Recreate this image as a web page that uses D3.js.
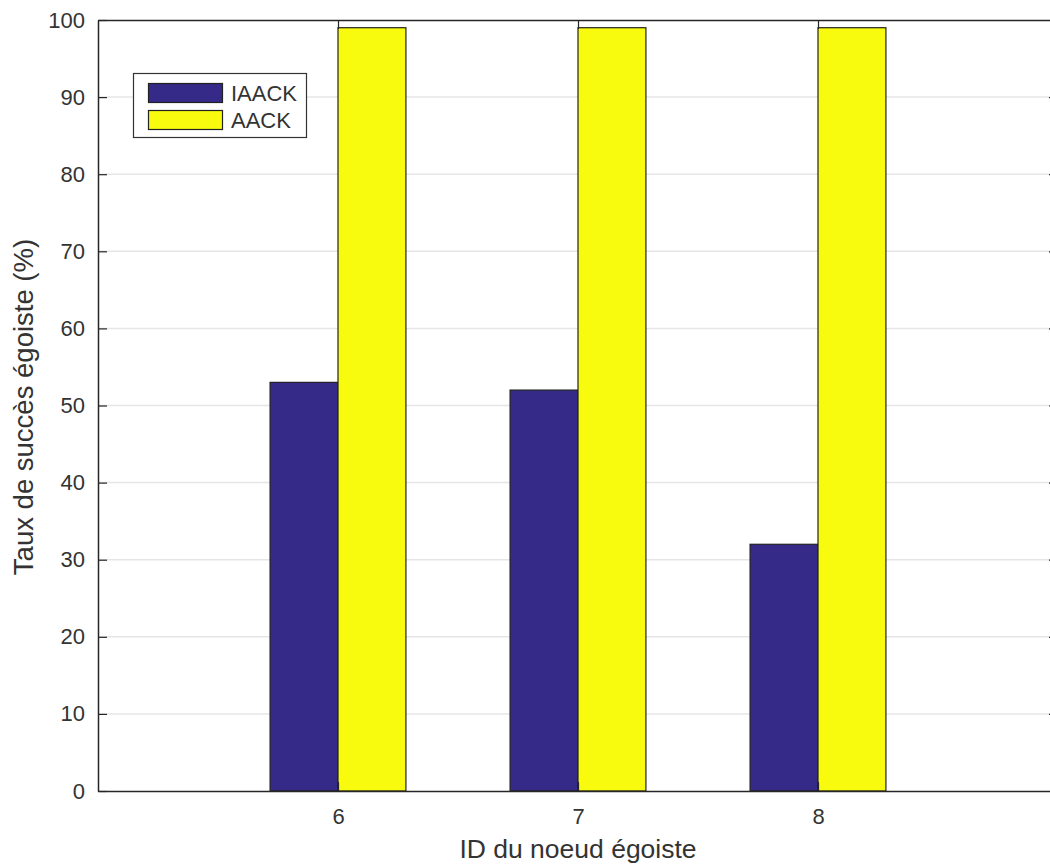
<!DOCTYPE html>
<html>
<head>
<meta charset="utf-8">
<script src="https://cdn.jsdelivr.net/npm/d3@7"></script>
<style>
  body { margin: 0; background: #fff; }
  svg { display: block; font-family: "Liberation Sans", Arial, sans-serif; }
</style>
</head>
<body>
<div id="chart"></div>
<script>
// data
var nodes = [6, 7, 8];
var seriesNames = ["IAACK", "AACK"];
var iaack = [53, 52, 32];
var aack = [99, 99, 99];
var yTicks = [0, 10, 20, 30, 40, 50, 60, 70, 80, 90, 100];
var colors = ["#352a87", "#f9fb0e"];

var W = 1050, H = 865;
var plotL = 98, plotR = 1058, plotT = 20, plotB = 791;

var svg = d3.select('#chart').append('svg').attr('width', W).attr('height', H);

var x = d3.scaleLinear().domain([5, 9]).range([plotL, plotR]);
var y = d3.scaleLinear().domain([0, 100]).range([plotB, plotT]);
var barW = x(5.283) - x(5); // one bar, ~68px

// grid
svg.append('g').selectAll('line')
  .data(yTicks.filter(function (d) { return d > 0 && d < 100; }))
  .enter().append('line')
  .attr('x1', plotL).attr('x2', plotR)
  .attr('y1', function (d) { return y(d); })
  .attr('y2', function (d) { return y(d); })
  .attr('stroke', '#e6e6e6').attr('stroke-width', 1.5);

// bars
var values = [iaack, aack];
values.forEach(function (vals, s) {
  svg.append('g').selectAll('rect')
    .data(vals)
    .enter().append('rect')
    .attr('x', function (d, i) { return x(nodes[i]) + (s - 1) * barW; })
    .attr('width', barW)
    .attr('y', function (d) { return y(d); })
    .attr('height', function (d) { return y(0) - y(d); })
    .attr('fill', colors[s])
    .attr('stroke', '#222').attr('stroke-width', 1.2);
});

// axes
var axisColor = '#262626';
var yAxis = d3.axisLeft(y).tickValues(yTicks).tickSizeInner(-9).tickSizeOuter(0).tickPadding(13);
var gy = svg.append('g').attr('transform', 'translate(' + plotL + ',0)').call(yAxis);
var yAxisR = d3.axisRight(y).tickValues(yTicks).tickSizeInner(-9).tickSizeOuter(0).tickFormat('');
var gyr = svg.append('g').attr('transform', 'translate(' + plotR + ',0)').call(yAxisR);
var xAxis = d3.axisBottom(x).tickValues(nodes).tickSizeInner(-9).tickSizeOuter(0).tickPadding(17).tickFormat(d3.format('d'));
var gx = svg.append('g').attr('transform', 'translate(0,' + plotB + ')').call(xAxis);
var xAxisT = d3.axisTop(x).tickValues(nodes).tickSizeInner(-9).tickSizeOuter(0).tickFormat('');
var gxt = svg.append('g').attr('transform', 'translate(0,' + plotT + ')').call(xAxisT);

[gy, gyr, gx, gxt].forEach(function (g) {
  g.select('.domain').attr('stroke', axisColor).attr('stroke-width', 1.5);
  g.selectAll('.tick line').attr('stroke', axisColor).attr('stroke-width', 1.2);
  g.selectAll('.tick text').attr('fill', '#333').attr('font-size', 22)
    .attr('font-family', '"Liberation Sans", Arial, sans-serif');
});

// labels
svg.append('text')
  .attr('transform', 'translate(33,407) rotate(-90)')
  .attr('text-anchor', 'middle').attr('font-size', 27.5).attr('fill', '#333')
  .text('Taux de succès égoiste (%)');
svg.append('text')
  .attr('x', x(7)).attr('y', 858)
  .attr('text-anchor', 'middle').attr('font-size', 26.5).attr('fill', '#333')
  .text('ID du noeud égoiste');

// legend
var lg = svg.append('g');
lg.append('rect').attr('x', 133.5).attr('y', 73.5).attr('width', 173).attr('height', 64)
  .attr('fill', '#fff').attr('stroke', '#333').attr('stroke-width', 1.2);
seriesNames.forEach(function (name, i) {
  lg.append('rect').attr('x', 148.5).attr('y', 83.5 + i * 27).attr('width', 74).attr('height', 19)
    .attr('fill', colors[i]).attr('stroke', '#222').attr('stroke-width', 1.2);
  lg.append('text').attr('x', 231).attr('y', 101 + i * 27)
    .attr('font-size', 22).attr('fill', '#333').text(name);
});
</script>
</body>
</html>
